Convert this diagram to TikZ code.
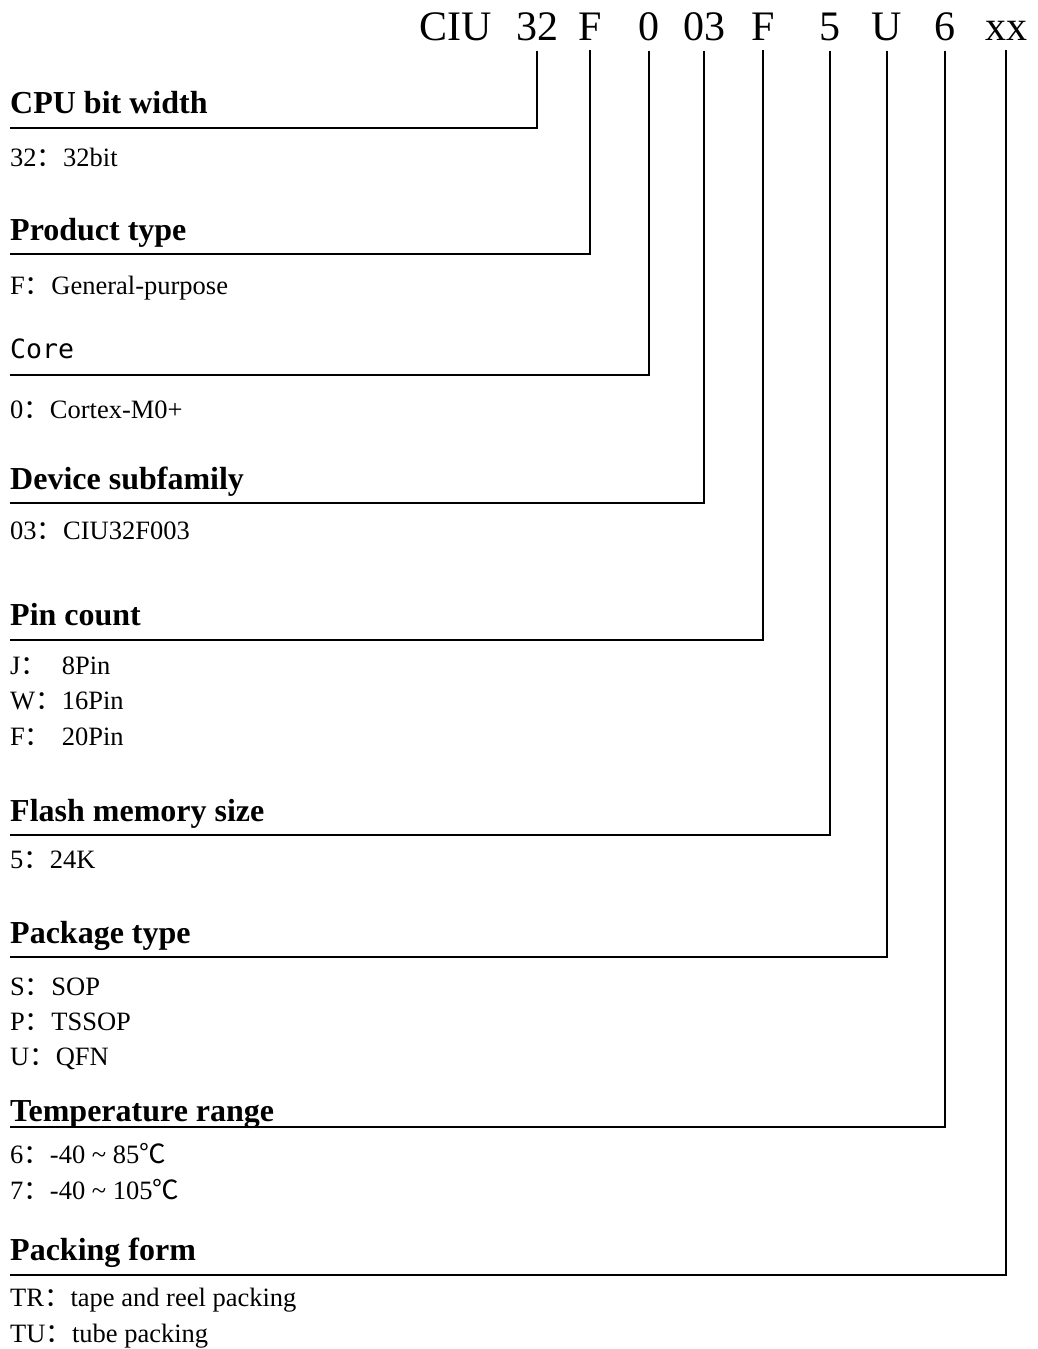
\documentclass[tikz,border=0pt]{standalone}
\usepackage{fontspec}
\setmainfont{Liberation Serif}
\newfontfamily\cjk{Noto Sans CJK SC}
\newfontfamily\monotxt{DejaVu Sans Mono}
\usetikzlibrary{positioning}
\newcommand{\fc}{{\cjk ：}}
\newcommand{\degc}{{\cjk ℃}}
\newcommand{\pinkey}[1]{\makebox[1.95em][l]{#1\fc}}
\tikzset{
  every node/.style={inner sep=0pt},
  code/.style={anchor=base, font=\fontsize{42}{48}\selectfont},
  heading/.style={anchor=base west, font=\fontsize{32}{36}\selectfont\bfseries},
  item/.style={anchor=base west, font=\fontsize{26.5}{30}\selectfont},
  rule/.style={line width=1.8pt, line join=miter}
}

\begin{document}
\begin{tikzpicture}[x=1pt,y=-1pt]
  \useasboundingbox (0,0) rectangle (1038,1349);

  % part number
  \node[code] (ciu) at (456,40) {CIU};
  \foreach \nm/\cx/\cd in {bits/537/32, type/590/F, core/649/0, sub/704/03,
      pins/763/F, flash/830/5, pkg/887/U, temp/945/6, pack/1006/xx} {
    \node[code] (c\nm) at (\cx,40) {\cd};
  }

  % headings with their leader lines
  \foreach \nm/\hy/\ly/\hd in {bits/113/128/CPU bit width,
      type/240/254/Product type,
      core/358/375/{\normalfont\monotxt\fontsize{26.5}{30}\selectfont Core},
      sub/489/503/Device subfamily,
      pins/625/640/Pin count,
      flash/821/835/Flash memory size,
      pkg/943/957/Package type,
      temp/1121/1127/Temperature range,
      pack/1260/1275/Packing form} {
    \node[heading] (h\nm) at (10,\hy) {\hd};
    \coordinate (l\nm) at (10,\ly);
    \draw[rule] ([yshift=-10pt]c\nm.south) |- (l\nm);
  }

  % values
  \foreach \nm/\iy/\it in {v1/166/32\fc 32bit,
      v2/294/F\fc General-purpose,
      v3/418/0\fc Cortex-M0+,
      v4/539/03\fc CIU32F003,
      v5/674/\pinkey{J}8Pin,
      v6/709/\pinkey{W}16Pin,
      v7/745/\pinkey{F}20Pin,
      v8/868/5\fc 24K,
      v9/995/S\fc SOP,
      v10/1030/P\fc TSSOP,
      v11/1065/U\fc QFN,
      v12/1163/6\fc -40 \textasciitilde{} 85\degc,
      v13/1199/7\fc -40 \textasciitilde{} 105\degc,
      v14/1306/TR\fc tape and reel packing,
      v15/1342/TU\fc tube packing} {
    \node[item] (\nm) at (10,\iy) {\it};
  }
\end{tikzpicture}
\end{document}
